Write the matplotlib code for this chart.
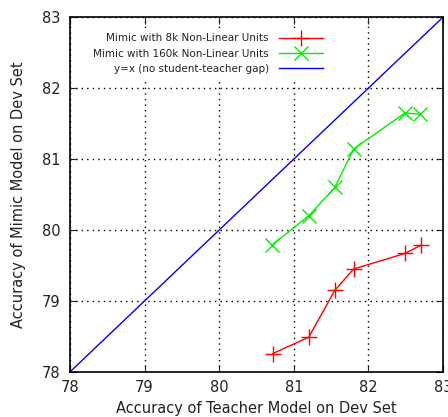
import matplotlib
matplotlib.use("Agg")
import matplotlib.pyplot as plt
import numpy as np

teacher_8k = [80.72, 81.20, 81.55, 81.80, 82.49, 82.71]
mimic_8k = [78.26, 78.49, 79.15, 79.45, 79.67, 79.79]
teacher_160k = [80.71, 81.20, 81.55, 81.80, 82.49, 82.69]
mimic_160k = [79.79, 80.20, 80.60, 81.14, 81.65, 81.63]
diag = [78, 83]

fig = plt.figure(figsize=(4.48, 4.17), dpi=100)
ax = fig.add_axes([0.156, 0.108, 0.833, 0.851])

ax.plot(teacher_8k, mimic_8k, color="red", lw=1, marker="+", ms=11, mew=1,
        label="Mimic with 8k Non-Linear Units")
ax.plot(teacher_160k, mimic_160k, color="#00ee00", lw=1, marker="x", ms=10, mew=1,
        label="Mimic with 160k Non-Linear Units")
ax.plot(diag, diag, color="blue", lw=1, label="y=x (no student-teacher gap)")

ax.set_xlim(78, 83)
ax.set_ylim(78, 83)
ax.set_xticks(range(78, 84))
ax.set_yticks(range(78, 84))
ax.grid(True, color="black", linestyle=(0, (1, 3)), lw=1)
ax.tick_params(direction="in", top=True, right=True, length=5, labelsize=10.5,
               colors="#222222")
ax.tick_params(axis="x", pad=6)
ax.tick_params(axis="y", pad=7)
for s in ax.spines.values():
    s.set_linewidth(1.2)

ax.set_xlabel("Accuracy of Teacher Model on Dev Set", fontsize=10.5,
              color="#222222", labelpad=4)
ax.set_ylabel("Accuracy of Mimic Model on Dev Set", fontsize=10.5,
              color="#222222", labelpad=11)

leg = ax.legend(loc="upper right", bbox_to_anchor=(0.689, 0.966), frameon=True,
                markerfirst=False, fontsize=7.5, handlelength=4.2,
                handletextpad=1.0, labelspacing=0.5, borderaxespad=0,
                fancybox=False, edgecolor="none", facecolor="white",
                framealpha=1)
for t in leg.get_texts():
    t.set_ha("right")
    t.set_color("#222222")
leg._legend_box.align = "right"

fig.savefig("out.png", dpi=100)
